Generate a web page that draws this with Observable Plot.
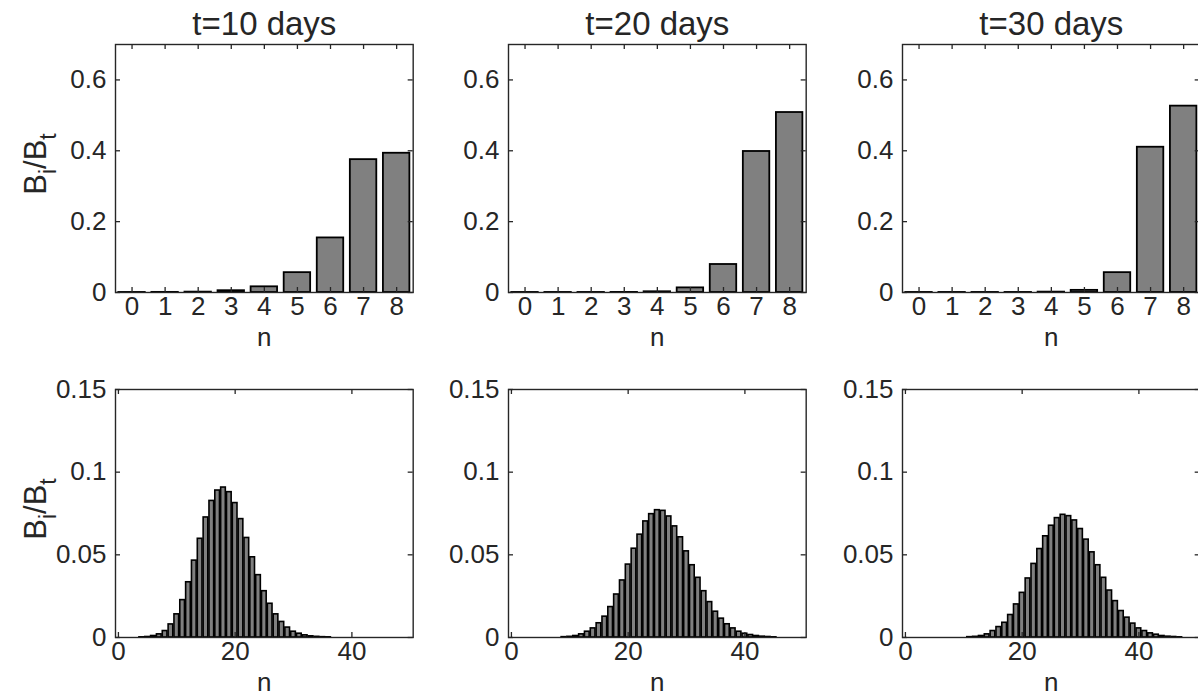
<!DOCTYPE html>
<html><head><meta charset="utf-8">
<script src="https://cdn.jsdelivr.net/npm/d3@7"></script>
<script src="https://cdn.jsdelivr.net/npm/@observablehq/plot@0.6"></script>
<style>
html,body{margin:0;padding:0;background:#fff;overflow:hidden;}
#root{position:relative;width:1198px;height:698px;overflow:hidden;font-family:"Liberation Sans",Arial,sans-serif;color:#262626;}
.panel{position:absolute;}
.ylab{position:absolute;font-size:31px;line-height:1;white-space:nowrap;transform:translate(-50%,-50%) rotate(-90deg);}
.ylab sub{font-size:23px;vertical-align:-0.4em;}
</style></head><body><div id="root"></div>
<script>
// ---------- data ----------
const titles = ["t=10 days", "t=20 days", "t=30 days"];
const xTicksTop = [0, 1, 2, 3, 4, 5, 6, 7, 8];
const yTicksTop = [0, 0.2, 0.4, 0.6];
const xTicksBottom = [0, 20, 40];
const yTicksBottom = [0, 0.05, 0.1, 0.15];
const yLabel = ["B", "i", "/B", "t"];
const xLabel = "n";

const nTop = [0, 1, 2, 3, 4, 5, 6, 7, 8];
const topT10 = [0.0001, 0.0003, 0.001, 0.005, 0.016, 0.056, 0.154, 0.375, 0.393];
const topT20 = [0.0001, 0.0001, 0.0001, 0.0002, 0.002, 0.013, 0.079, 0.398, 0.508];
const topT30 = [0.0001, 0.0001, 0.0001, 0.0001, 0.001, 0.006, 0.056, 0.41, 0.526];

const nBottom = d3.range(0, 51);
const botT10 = [0, 0, 0, 0, 0.0001, 0.0003, 0.0009, 0.0019, 0.0039, 0.0079,
  0.014, 0.0226, 0.0334, 0.0465, 0.0597, 0.0726, 0.0826, 0.0889, 0.0907, 0.0879,
  0.0813, 0.0716, 0.0602, 0.0485, 0.0377, 0.028, 0.0204, 0.014, 0.0094, 0.006,
  0.0035, 0.0023, 0.0013, 0.0007, 0.0004, 0.0002, 0.0001, 0, 0, 0,
  0, 0, 0, 0, 0, 0, 0, 0, 0, 0, 0];
const botT20 = [0, 0, 0, 0, 0, 0, 0, 0, 0, 0.0002,
  0.0004, 0.0009, 0.0019, 0.0035, 0.0055, 0.0086, 0.0126, 0.0184, 0.026, 0.0345,
  0.0441, 0.0537, 0.0622, 0.0702, 0.0746, 0.077, 0.0766, 0.0732, 0.0672, 0.0606,
  0.0521, 0.0437, 0.0361, 0.028, 0.0214, 0.0156, 0.0114, 0.008, 0.0055, 0.0035,
  0.0023, 0.0015, 0.0009, 0.0005, 0.0003, 0.0001, 0, 0, 0, 0, 0];
const botT30 = [0, 0, 0, 0, 0, 0, 0, 0, 0, 0,
  0, 0.0002, 0.0004, 0.0009, 0.0019, 0.0039, 0.0063, 0.0089, 0.0136, 0.02,
  0.027, 0.0357, 0.0445, 0.0535, 0.0612, 0.0676, 0.0722, 0.0742, 0.0734, 0.0708,
  0.0656, 0.0592, 0.0515, 0.0437, 0.0361, 0.0284, 0.022, 0.016, 0.012, 0.0084,
  0.0055, 0.0039, 0.0025, 0.0017, 0.0009, 0.0005, 0.0003, 0.0001, 0, 0, 0];

// ---------- layout ----------
const FRAME_LEFT = [115, 508.3, 901.6];
const FRAME_TOP = [44, 388.5];
const FW = 297.7, FH = 248;
const ML = 80, MR = 12, MT = 44, MB = 62;
const TICKLEN = 5;
const INK = "#262626";
const FONT = "Liberation Sans, Arial, sans-serif";

const root = document.getElementById("root");

function panel(row, col) {
  const top = row === 0;
  const vals = top ? [topT10, topT20, topT30][col] : [botT10, botT20, botT30][col];
  const ns = top ? nTop : nBottom;
  const data = ns.map((n, i) => ({n, v: vals[i]}));
  const xTicks = top ? xTicksTop : xTicksBottom;
  const yTicks = top ? yTicksTop : yTicksBottom;
  const xDomain = top ? [-0.5, 8.5] : [-0.5, 50.5];
  const yDomain = top ? [0, 0.7] : [0, 0.15];
  const marks = [
    Plot.rectY(data, {x1: d => d.n - 0.4, x2: d => d.n + 0.4, y: "v",
      fill: "#808080", stroke: "black", strokeWidth: top ? 1.8 : 1.6}),
    Plot.frame({stroke: INK, strokeWidth: 1.4}),
    Plot.tickX(xTicks, {x: d => d, insetTop: FH - TICKLEN, stroke: INK, strokeWidth: 1.3}),
    Plot.tickX(xTicks, {x: d => d, insetBottom: FH - TICKLEN, stroke: INK, strokeWidth: 1.3}),
    Plot.tickY(yTicks, {y: d => d, insetRight: FW - TICKLEN, stroke: INK, strokeWidth: 1.3}),
    Plot.tickY(yTicks, {y: d => d, insetLeft: FW - TICKLEN, stroke: INK, strokeWidth: 1.3}),
    Plot.axisX({ticks: xTicks, tickSize: 0, tickPadding: 4, tickFormat: d => String(d), fontSize: 26, fill: INK}),
    Plot.axisY({ticks: yTicks, tickSize: 0, tickPadding: 9, tickFormat: d => String(d), fontSize: 26, fill: INK}),
    Plot.text([xLabel], {frameAnchor: "bottom", dy: 54, lineAnchor: "bottom", fontSize: 26, fill: INK})
  ];
  if (top) {
    marks.push(Plot.text([titles[col]], {frameAnchor: "top", dy: -9, lineAnchor: "bottom", fontSize: 33, fill: INK}));
  }
  const chart = Plot.plot({
    width: ML + FW + MR,
    height: MT + FH + MB,
    marginLeft: ML, marginRight: MR, marginTop: MT, marginBottom: MB,
    x: {domain: xDomain, label: null},
    y: {domain: yDomain, label: null},
    style: {fontFamily: FONT, fontSize: "26px", color: INK, background: "transparent", overflow: "visible"},
    marks
  });
  chart.classList.add("panel");
  chart.style.left = (FRAME_LEFT[col] - ML) + "px";
  chart.style.top = (FRAME_TOP[row] - MT) + "px";
  root.appendChild(chart);
}

for (let r = 0; r < 2; r++) for (let c = 0; c < 3; c++) panel(r, c);

// y labels (first column of each row)
for (let r = 0; r < 2; r++) {
  const d = document.createElement("div");
  d.className = "ylab";
  d.innerHTML = `${yLabel[0]}<sub>${yLabel[1]}</sub>${yLabel[2]}<sub>${yLabel[3]}</sub>`;
  d.style.left = "40px";
  d.style.top = (FRAME_TOP[r] + FH / 2 - 4) + "px";
  root.appendChild(d);
}
</script></body></html>
